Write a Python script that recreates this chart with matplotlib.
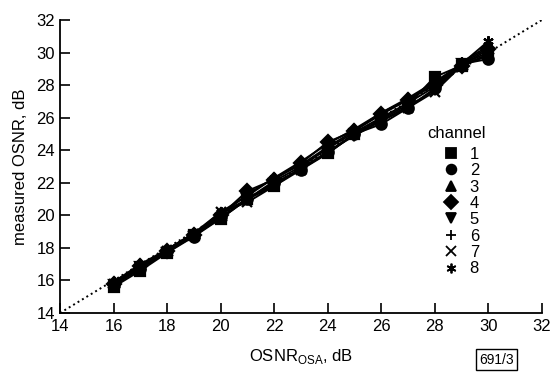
import matplotlib.pyplot as plt
from matplotlib.lines import Line2D

plt.rcParams['font.family'] = ['Liberation Sans', 'DejaVu Sans']

osna = [16, 17, 18, 19, 20, 21, 22, 23, 24, 25, 26, 27, 28, 29, 30]

ch1 = [15.6, 16.6, 17.7, 18.8, 19.8, 21.0, 21.8, 22.9, 23.8, 25.0, 25.9, 26.8, 28.5, 29.2, 29.9]
ch2 = [15.7, 16.7, 17.8, 18.7, 19.9, 21.0, 22.0, 22.8, 23.9, 25.0, 25.6, 26.6, 27.8, 29.3, 29.6]
ch3 = [15.9, 17.0, 17.9, 18.9, 20.0, 21.3, 22.3, 23.3, 24.4, 25.3, 26.3, 27.2, 28.2, 29.3, 30.3]
ch4 = [15.8, 16.9, 17.8, 18.8, 20.0, 21.5, 22.2, 23.2, 24.5, 25.2, 26.2, 27.1, 28.0, 29.2, 30.2]
ch5 = [15.7, 16.8, 17.7, 18.7, 19.8, 21.0, 21.9, 22.9, 23.9, 24.9, 25.8, 26.7, 27.7, 29.3, 30.0]
ch6 = [15.9, 16.9, 17.9, 18.9, 20.1, 21.0, 22.1, 23.0, 24.1, 25.1, 26.0, 26.9, 27.9, 29.4, 30.4]
ch7 = [15.8, 16.8, 17.8, 18.8, 20.2, 20.8, 21.8, 22.8, 23.8, 25.0, 25.8, 26.6, 27.6, 29.2, 29.8]
ch8 = [15.9, 16.9, 17.9, 18.9, 20.2, 21.2, 22.3, 23.1, 24.2, 25.2, 26.3, 27.1, 28.1, 29.3, 30.7]

channels = ['1', '2', '3', '4', '5', '6', '7', '8']
series = [ch1, ch2, ch3, ch4, ch5, ch6, ch7, ch8]
markers = ['s', 'o', '^', 'D', 'v', '+', 'x', (6, 2, 0)]

ticks = [14, 16, 18, 20, 22, 24, 26, 28, 30, 32]

fig = plt.figure(figsize=(5.52, 3.75), dpi=100)
ax = fig.add_axes([0.1087, 0.1653, 0.873, 0.7814])

# reference line y = x
ax.plot([14, 32], [14, 32], ':', color='black', lw=1.4)

for vals, m in zip(series, markers):
    ax.plot(osna, vals, '-', color='black', lw=1.4, marker=m, ms=7.5,
            mew=1.6, mfc='black', mec='black')

ax.set_xlim(14, 32)
ax.set_ylim(14, 32)
ax.set_xticks(ticks)
ax.set_yticks(ticks)
ax.tick_params(direction='in', length=7, width=1.2, labelsize=12, colors='black')
ax.tick_params(axis='x', pad=4)
for s in ['top', 'right']:
    ax.spines[s].set_visible(False)
for s in ['left', 'bottom']:
    ax.spines[s].set_linewidth(1.3)

ax.set_xlabel('OSNR$_{\\mathregular{OSA}}$, dB', fontsize=12, labelpad=10)
ax.set_ylabel('measured OSNR, dB', fontsize=12, labelpad=6)

# legend: title placed separately, entries below
fig.text(457 / 552, 1 - 133 / 375, 'channel', fontsize=12,
         ha='center', va='center')
handles = [Line2D([], [], ls='none', marker=m, color='black', ms=7, mew=1.3)
           for m in markers]
leg = ax.legend(handles, channels, frameon=False,
                loc='upper left', bbox_to_anchor=(443 / 552, 1 - 147 / 375),
                bbox_transform=fig.transFigure, fontsize=12,
                handlelength=1.0, handletextpad=0.6, labelspacing=0.08,
                borderpad=0.0, borderaxespad=0.0)

fig.text(0.868, 0.03, '691/3', fontsize=10,
         bbox=dict(boxstyle='square,pad=0.25', fc='white', ec='black', lw=1))

fig.savefig('out.png', dpi=100)
